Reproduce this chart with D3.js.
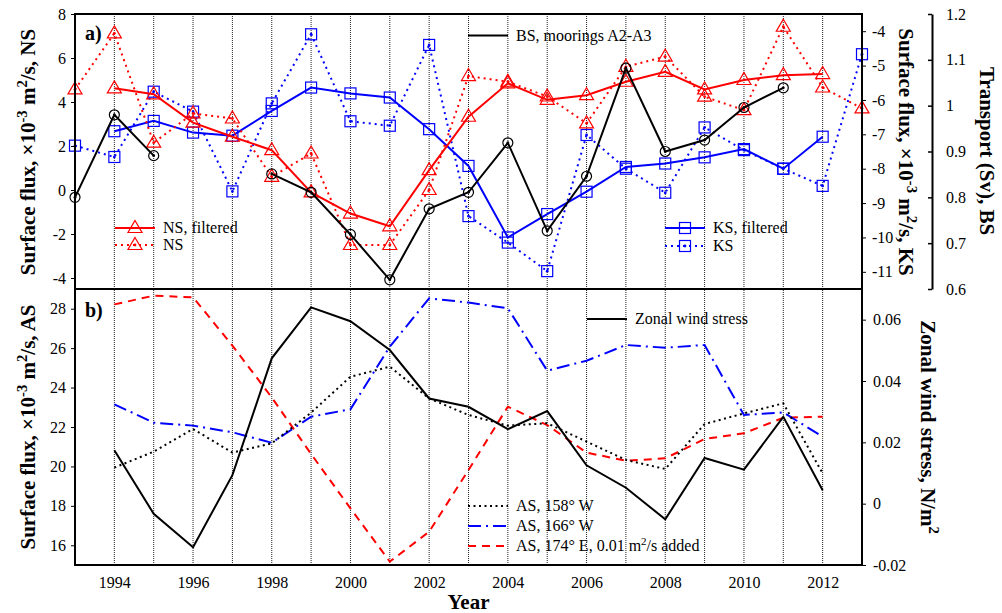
<!DOCTYPE html>
<html>
<head>
<meta charset="utf-8">
<script src="https://cdn.jsdelivr.net/npm/d3@7"></script>
<style>
  html, body { margin: 0; padding: 0; background: #fff; }
  svg { display: block; }
  text { font-family: "Liberation Serif", "Times New Roman", serif; fill: #000; }
</style>
</head>
<body>
<svg id="chart" width="1002" height="613"></svg>
<script>
// ---- data ----
const yearsFull = [1993,1994,1995,1996,1997,1998,1999,2000,2001,2002,2003,2004,2005,2006,2007,2008,2009,2010,2011,2012,2013];
const yearsInner = [1994,1995,1996,1997,1998,1999,2000,2001,2002,2003,2004,2005,2006,2007,2008,2009,2010,2011,2012];
const yearsBS = [1993,1994,1995,1996,1997,1998,1999,2000,2001,2002,2003,2004,2005,2006,2007,2008,2009,2010,2011];

// Norton Sound flux (1e-3 m2/s)
const nsRaw = [4.57, 7.12, 2.15, 3.48, 3.25, 0.6, 1.66, -2.5, -2.5, 0.0, 5.18, 4.92, 4.25, 3.03, 5.6, 6.06, 4.24, 3.63, 7.42, 4.66, 3.71];
const nsFiltered = [4.62, 4.35, 3.06, 2.42, 1.81, -0.11, -1.07, -1.65, 0.9, 3.33, 4.85, 4.1, 4.31, 4.92, 5.37, 4.57, 5.0, 5.22, 5.27];
// Kotzebue Sound flux (1e-3 m2/s)
const ksRaw = [-7.33, -7.66, -5.76, -6.34, -8.66, -6.1, -4.09, -6.62, -6.75, -4.4, -9.38, -10.15, -10.98, -7.02, -8.0, -8.7, -6.8, -7.46, -8.0, -8.5, -4.67];
const ksFiltered = [-6.91, -6.61, -6.95, -7.04, -6.32, -5.64, -5.81, -5.93, -6.85, -7.92, -10.0, -9.32, -8.67, -7.95, -7.85, -7.67, -7.43, -8.0, -7.07];
// Bering Strait transport (Sv), moorings A2-A3
const bsTransport = [0.80, 0.98, 0.891, null, null, 0.851, 0.811, 0.719, 0.620, 0.775, 0.811, 0.919, 0.727, 0.846, 1.082, 0.90, 0.925, 0.996, 1.039];

// Alaska Stream flux (1e-3 m2/s)
const as158W = [19.94, 20.75, 21.9, 20.7, 21.17, 22.73, 24.55, 25.06, 23.45, 22.61, 22.07, 22.19, 21.26, 20.33, 19.87, 22.15, 22.69, 23.2, 19.65];
const as166W = [23.15, 22.22, 22.07, 21.73, 21.2, 22.52, 22.9, 26.07, 28.53, 28.31, 28.02, 24.86, 25.36, 26.16, 26.02, 26.16, 22.61, 22.74, 21.51];
const as174E = [28.22, 28.66, 28.58, 26.13, 23.5, 20.63, 17.87, 15.17, 16.69, 19.82, 23.03, 22.1, 20.7, 20.29, 20.41, 21.39, 21.68, 22.47, 22.52];
// Zonal wind stress (N/m2)
const windStress = [0.0174, -0.0033, -0.0142, 0.0093, 0.0474, 0.064, 0.0595, 0.0501, 0.0343, 0.0316, 0.0243, 0.0302, 0.0125, 0.0052, -0.0051, 0.0149, 0.0111, 0.0283, 0.0044];

// tick values
const xTicks = [1994,1996,1998,2000,2002,2004,2006,2008,2010,2012];
const nsTicks = [-4,-2,0,2,4,6,8];
const ksTicks = [-11,-10,-9,-8,-7,-6,-5,-4];
const bsTicks = [0.6,0.7,0.8,0.9,1,1.1,1.2];
const asTicks = [16,18,20,22,24,26,28];
const windTicks = [-0.02,0,0.02,0.04,0.06];

// ---- layout ----
const L = 75, R = 862, T1 = 14, B1 = 289, T2 = 289, B2 = 565;
const svg = d3.select("#chart");

const x = d3.scaleLinear().domain([1993, 2013]).range([L, R]);
const yNS = d3.scaleLinear().domain([-4.5, 8]).range([B1, T1]);
const yKS = d3.scaleLinear().domain([-11.5, -3.5]).range([B1, T1]);
const yBS = d3.scaleLinear().domain([0.6, 1.2]).range([B1, T1]);
const yAS = d3.scaleLinear().domain([15, 29]).range([B2, T2]);
const yWS = d3.scaleLinear().domain([-0.02, 0.07]).range([B2, T2]);

const RED = "#ff0000", BLUE = "#0000ff", BLACK = "#000";
const fmt = d => String(d);

// vertical year grid lines through both panels
svg.append("g").selectAll("line")
  .data(d3.range(1994, 2013))
  .join("line")
  .attr("x1", d => x(d)).attr("x2", d => x(d))
  .attr("y1", T1).attr("y2", B2)
  .attr("stroke", "#222").attr("stroke-width", 1)
  .attr("stroke-dasharray", "1,1");

// ---- helpers ----
function zip(years, vals) { return years.map((yr, i) => ({ yr, v: vals[i] })); }

function drawLine(data, yScale, color, dash, width) {
  const gen = d3.line().defined(d => d.v != null).x(d => x(d.yr)).y(d => yScale(d.v));
  svg.append("path").datum(data)
    .attr("d", gen).attr("fill", "none")
    .attr("stroke", color).attr("stroke-width", width || 2)
    .attr("stroke-dasharray", dash || null)
    .attr("stroke-linejoin", "miter");
}

const triPath = "M0,-7.5L7,4.5L-7,4.5Z";
function drawMarkers(data, yScale, kind, color, dot) {
  const g = svg.append("g");
  const pts = data.filter(d => d.v != null);
  const sel = g.selectAll("g").data(pts).join("g")
    .attr("transform", d => `translate(${x(d.yr)},${yScale(d.v)})`);
  addMarker(sel, kind, color, dot);
}
function addMarker(sel, kind, color, dot) {
  if (kind === "tri") {
    sel.append("path").attr("d", triPath).attr("fill", "none").attr("stroke", color).attr("stroke-width", 1.2);
  } else if (kind === "sq") {
    sel.append("rect").attr("x", -5.5).attr("y", -5.5).attr("width", 11).attr("height", 11)
      .attr("fill", "none").attr("stroke", color).attr("stroke-width", 1.2);
  } else if (kind === "circ") {
    sel.append("circle").attr("r", 5).attr("fill", "none").attr("stroke", color).attr("stroke-width", 1.2);
  }
  if (dot) sel.append("circle").attr("r", 1.4).attr("fill", color);
}

// ---- panel a ----
drawLine(zip(yearsFull, ksRaw), yKS, BLUE, "2,4", 2);
drawMarkers(zip(yearsFull, ksRaw), yKS, "sq", BLUE, true);
drawLine(zip(yearsInner, ksFiltered), yKS, BLUE, null, 2);
drawMarkers(zip(yearsInner, ksFiltered), yKS, "sq", BLUE, false);

drawLine(zip(yearsFull, nsRaw), yNS, RED, "2,4", 2);
drawMarkers(zip(yearsFull, nsRaw), yNS, "tri", RED, true);
drawLine(zip(yearsInner, nsFiltered), yNS, RED, null, 2);
drawMarkers(zip(yearsInner, nsFiltered), yNS, "tri", RED, false);

drawLine(zip(yearsBS, bsTransport), yBS, BLACK, null, 2);
drawMarkers(zip(yearsBS, bsTransport), yBS, "circ", BLACK, true);

// ---- panel b ----
drawLine(zip(yearsInner, as174E), yAS, RED, "8,6", 2);
drawLine(zip(yearsInner, as166W), yAS, BLUE, "13,5,2,5", 2);
drawLine(zip(yearsInner, as158W), yAS, BLACK, "2,3.5", 2);
drawLine(zip(yearsInner, windStress), yWS, BLACK, null, 2);

// ---- frames ----
[[T1, B1], [T2, B2]].forEach(([t, b]) => {
  svg.append("rect").attr("x", L).attr("y", t).attr("width", R - L).attr("height", b - t)
    .attr("fill", "none").attr("stroke", "#000").attr("stroke-width", 2);
});

// ---- axes ----
function styleAxis(g, size) {
  g.select(".domain").remove();
  g.selectAll(".tick line").attr("stroke", "#000").attr("stroke-width", 1);
  g.selectAll(".tick text").style("font-size", (size || 16) + "px")
    .style("font-family", '"Liberation Serif", "Times New Roman", serif');
}

svg.append("g").attr("transform", `translate(${L},0)`)
  .call(d3.axisLeft(yNS).tickValues(nsTicks).tickFormat(fmt).tickSize(4).tickPadding(5))
  .call(g => styleAxis(g));

svg.append("g").attr("transform", `translate(${R},0)`)
  .call(d3.axisRight(yKS).tickValues(ksTicks).tickFormat(fmt).tickSize(4).tickPadding(6))
  .call(g => styleAxis(g));

const bsAxisX = 932;
svg.append("g").attr("transform", `translate(${bsAxisX},0)`)
  .call(d3.axisRight(yBS).tickValues(bsTicks).tickFormat(fmt).tickSizeInner(-4).tickSizeOuter(0).tickPadding(14))
  .call(g => {
    g.selectAll(".tick line").attr("stroke", "#000").attr("stroke-width", 1.5);
    g.select(".domain").attr("stroke", "#000").attr("stroke-width", 2);
    g.selectAll(".tick text").style("font-size", "16px")
      .style("font-family", '"Liberation Serif", "Times New Roman", serif');
  });

svg.append("g").attr("transform", `translate(${L},0)`)
  .call(d3.axisLeft(yAS).tickValues(asTicks).tickFormat(fmt).tickSize(4).tickPadding(5))
  .call(g => styleAxis(g));

svg.append("g").attr("transform", `translate(${R},0)`)
  .call(d3.axisRight(yWS).tickValues(windTicks).tickFormat(fmt).tickSize(4).tickPadding(7))
  .call(g => styleAxis(g));

svg.append("g").attr("transform", `translate(0,${B2})`)
  .call(d3.axisBottom(x).tickValues(xTicks).tickFormat(fmt).tickSize(0).tickPadding(12))
  .call(g => styleAxis(g));

// ---- titles ----
function richTitle(parts, tx, ty, rot, size) {
  const t = svg.append("text")
    .attr("transform", `translate(${tx},${ty}) rotate(${rot})`)
    .attr("text-anchor", "middle")
    .style("font-size", size + "px").style("font-weight", "bold");
  parts.forEach(p => {
    if (typeof p === "string") t.append("tspan").text(p);
    else t.append("tspan").attr("baseline-shift", "super").style("font-size", (size * 0.7) + "px").text(p.sup);
  });
  return t;
}

richTitle(["Surface flux, \u00d710", {sup: "-3"}, " m", {sup: "2"}, "/s, NS"], 35, 152, -90, 21);
richTitle(["Surface flux, \u00d710", {sup: "-3"}, " m", {sup: "2"}, "/s, KS"], 899, 152, 90, 21);
richTitle(["Transport (Sv), BS"], 980, 151, 90, 21);
richTitle(["Surface flux, \u00d710", {sup: "-3"}, " m", {sup: "2"}, "/s, AS"], 35, 427, -90, 21);
richTitle(["Zonal wind stress, N/m", {sup: "2"}], 921, 427, 90, 21);

svg.append("text").attr("x", (L + R) / 2).attr("y", 609).attr("text-anchor", "middle")
  .style("font-size", "21px").style("font-weight", "bold").text("Year");

svg.append("text").attr("x", 85).attr("y", 40).style("font-size", "20px").style("font-weight", "bold").text("a)");
svg.append("text").attr("x", 85).attr("y", 317).style("font-size", "20px").style("font-weight", "bold").text("b)");

// ---- legends ----
function legendEntry(x0, y0, color, dash, marker, dot, label) {
  svg.append("line").attr("x1", x0).attr("x2", x0 + 40).attr("y1", y0).attr("y2", y0)
    .attr("stroke", color).attr("stroke-width", 2).attr("stroke-dasharray", dash || null);
  if (marker) {
    const g = svg.append("g").attr("transform", `translate(${x0 + 20},${y0})`);
    addMarker(g, marker, color, dot);
  }
  const t = svg.append("text").attr("x", x0 + 48).attr("y", y0).attr("dy", "0.33em").style("font-size", "16px");
  label.forEach(p => {
    if (typeof p === "string") t.append("tspan").text(p);
    else t.append("tspan").attr("baseline-shift", "super").style("font-size", "11px").text(p.sup);
  });
}

legendEntry(115, 228, RED, null, "tri", false, ["NS, filtered"]);
legendEntry(115, 245, RED, "2,4", "tri", true, ["NS"]);
legendEntry(468, 35.5, BLACK, null, null, false, ["BS, moorings A2-A3"]);
legendEntry(665, 228, BLUE, null, "sq", false, ["KS, filtered"]);
legendEntry(665, 246, BLUE, "2,4", "sq", true, ["KS"]);

legendEntry(587, 319, BLACK, null, null, false, ["Zonal wind stress"]);
legendEntry(468, 506, BLACK, "2,3.5", null, false, ["AS, 158\u00b0 W"]);
legendEntry(468, 526, BLUE, "13,5,2,5", null, false, ["AS, 166\u00b0 W"]);
legendEntry(468, 546, RED, "8,6", null, false, ["AS, 174\u00b0 E, 0.01 m", {sup: "2"}, "/s added"]);
</script>
</body>
</html>
